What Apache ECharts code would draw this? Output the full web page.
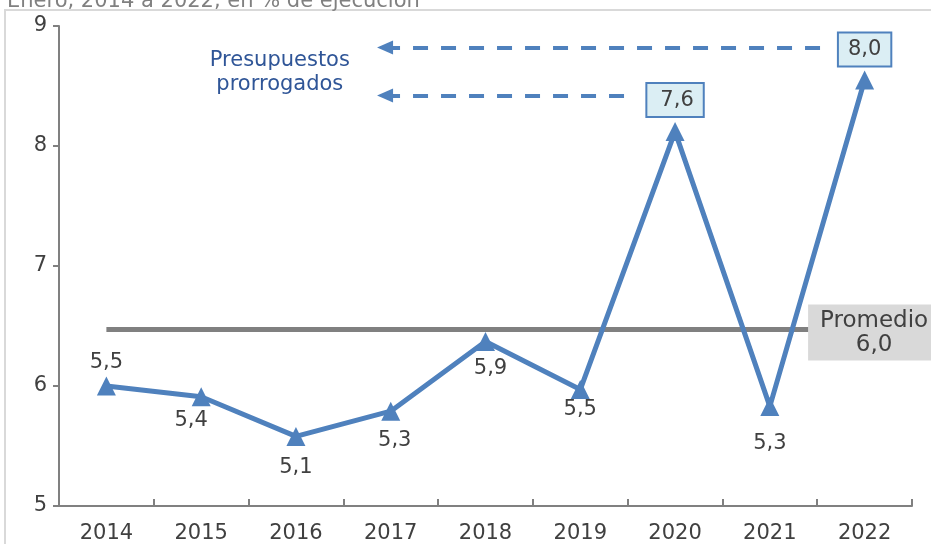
<!DOCTYPE html>
<html>
<head>
<meta charset="utf-8">
<script src="https://cdn.jsdelivr.net/npm/echarts@6/dist/echarts.min.js"></script>
<style>
  html, body { margin: 0; padding: 0; background: #fff; }
  #chart { width: 931px; height: 544px; }
</style>
</head>
<body>
<div id="chart"></div>
<script>
  // datos
  const years = ['2014', '2015', '2016', '2017', '2018', '2019', '2020', '2021', '2022']
  const values = [6.0, 5.91, 5.58, 5.79, 6.37, 5.97, 8.12, 5.83, 8.55]
  const labels = ['5,5', '5,4', '5,1', '5,3', '5,9', '5,5', '7,6', '5,3', '8,0']
  const yTicks = [5, 6, 7, 8, 9]
  const avgValue = 6.47
  const avgLabel = 'Promedio\n6,0'
  const noteText = 'Presupuestos\nprorrogados'
  const titleText = 'Enero, 2014 a 2022, en % de ejecución'

  const FONT = 'DejaVu Sans'
  const BLUE = '#4f81bd'
  const TXT = '#404040'

  // donde va cada etiqueta
  const placement = [
    {position: 'top', distance: 3},
    {position: 'bottom', distance: 4, offset: [-10, 0]},
    {position: 'bottom', distance: 11},
    {position: 'bottom', distance: 9, offset: [4, 0]},
    {position: 'bottom', distance: 7, offset: [5, 0]},
    {position: 'bottom', distance: 0},
    {position: 'top', distance: 6, boxed: true, padding: [6, 9, 5, 13]},
    {position: 'bottom', distance: 17},
    {position: 'top', distance: 5, boxed: true, padding: [6, 9, 5, 9]}
  ]

  const seriesData = values.map((v, i) => {
    let p = placement[i]
    let lab = {position: p.position, distance: p.distance, offset: p.offset || [0, 0]}
    if (p.boxed) {
      lab.backgroundColor = '#dbeef4'
      lab.borderColor = BLUE
      lab.borderWidth = 2
      lab.padding = p.padding
    }
    return {value: v, label: lab}
  })

  let mychart = echarts.init(document.getElementById('chart'))
  mychart.setOption({
    animation: false,
    textStyle: {fontFamily: FONT},
    title: {
      text: titleText,
      left: 2,
      top: -14,
      textStyle: {fontFamily: FONT, fontSize: 21, fontWeight: 'normal', color: '#808080'}
    },
    graphic: [{
      type: 'rect',
      shape: {x: 5, y: 10, width: 960, height: 600},
      style: {fill: 'none', stroke: '#d9d9d9', lineWidth: 2},
      z: -1
    }],
    grid: {left: 59, right: 19, top: 26, bottom: 38},
    xAxis: [{
      type: 'category',
      data: years,
      boundaryGap: true,
      axisLine: {lineStyle: {color: '#808080', width: 2}},
      axisTick: {show: true, inside: true, length: 7, lineStyle: {color: '#808080', width: 2}},
      axisLabel: {fontSize: 21, color: TXT, margin: 17}
    }, {
      type: 'value',
      min: -0.5,
      max: 8.5,
      show: false
    }],
    yAxis: {
      type: 'value',
      min: yTicks[0],
      max: yTicks[yTicks.length - 1],
      interval: 1,
      splitLine: {show: false},
      axisLine: {show: true, onZero: false, lineStyle: {color: '#808080', width: 2}},
      axisTick: {show: true, length: 6, lineStyle: {color: '#808080', width: 2}},
      axisLabel: {fontSize: 21, color: TXT, margin: 12}
    },
    series: [{
      type: 'line',
      data: seriesData,
      symbol: 'triangle',
      symbolSize: 19,
      itemStyle: {color: BLUE},
      lineStyle: {color: BLUE, width: 5},
      z: 5,
      label: {
        show: true,
        fontSize: 21,
        color: TXT,
        fontFamily: FONT,
        formatter: p => labels[p.dataIndex]
      }
    }, {
      // anotaciones: promedio, flechas y textos
      type: 'line',
      xAxisIndex: 1,
      data: [],
      z: 3,
      markLine: {
        silent: true,
        animation: false,
        label: {show: false},
        data: [
          [{coord: [0, avgValue], symbol: 'none', lineStyle: {color: '#808080', width: 5, type: 'solid'}},
           {coord: [7.5, avgValue], symbol: 'none'}],
          [{coord: [2.94, 8.82], symbol: 'triangle', symbolSize: [14, 16], lineStyle: {color: BLUE, width: 4, type: [15, 13]}},
           {coord: [7.55, 8.82], symbol: 'none'}],
          [{coord: [2.94, 8.42], symbol: 'triangle', symbolSize: [14, 16], lineStyle: {color: BLUE, width: 4, type: [15, 13]}},
           {coord: [5.58, 8.42], symbol: 'none'}]
        ]
      },
      markPoint: {
        silent: true,
        animation: false,
        symbol: 'rect',
        symbolSize: 1,
        itemStyle: {color: 'rgba(0,0,0,0)'},
        data: [{
          coord: [8.1, avgValue],
          label: {
            show: true, position: 'inside', formatter: avgLabel,
            fontSize: 23, color: TXT, lineHeight: 24, align: 'center',
            backgroundColor: '#d9d9d9', width: 120, padding: [4, 6, 4, 6],
            offset: [0, 3]
          }
        }, {
          coord: [1.83, 8.61],
          label: {
            show: true, position: 'inside', formatter: noteText,
            fontSize: 21, color: '#2f5597', lineHeight: 24, align: 'center'
          }
        }]
      }
    }]
  })
</script>
</body>
</html>
